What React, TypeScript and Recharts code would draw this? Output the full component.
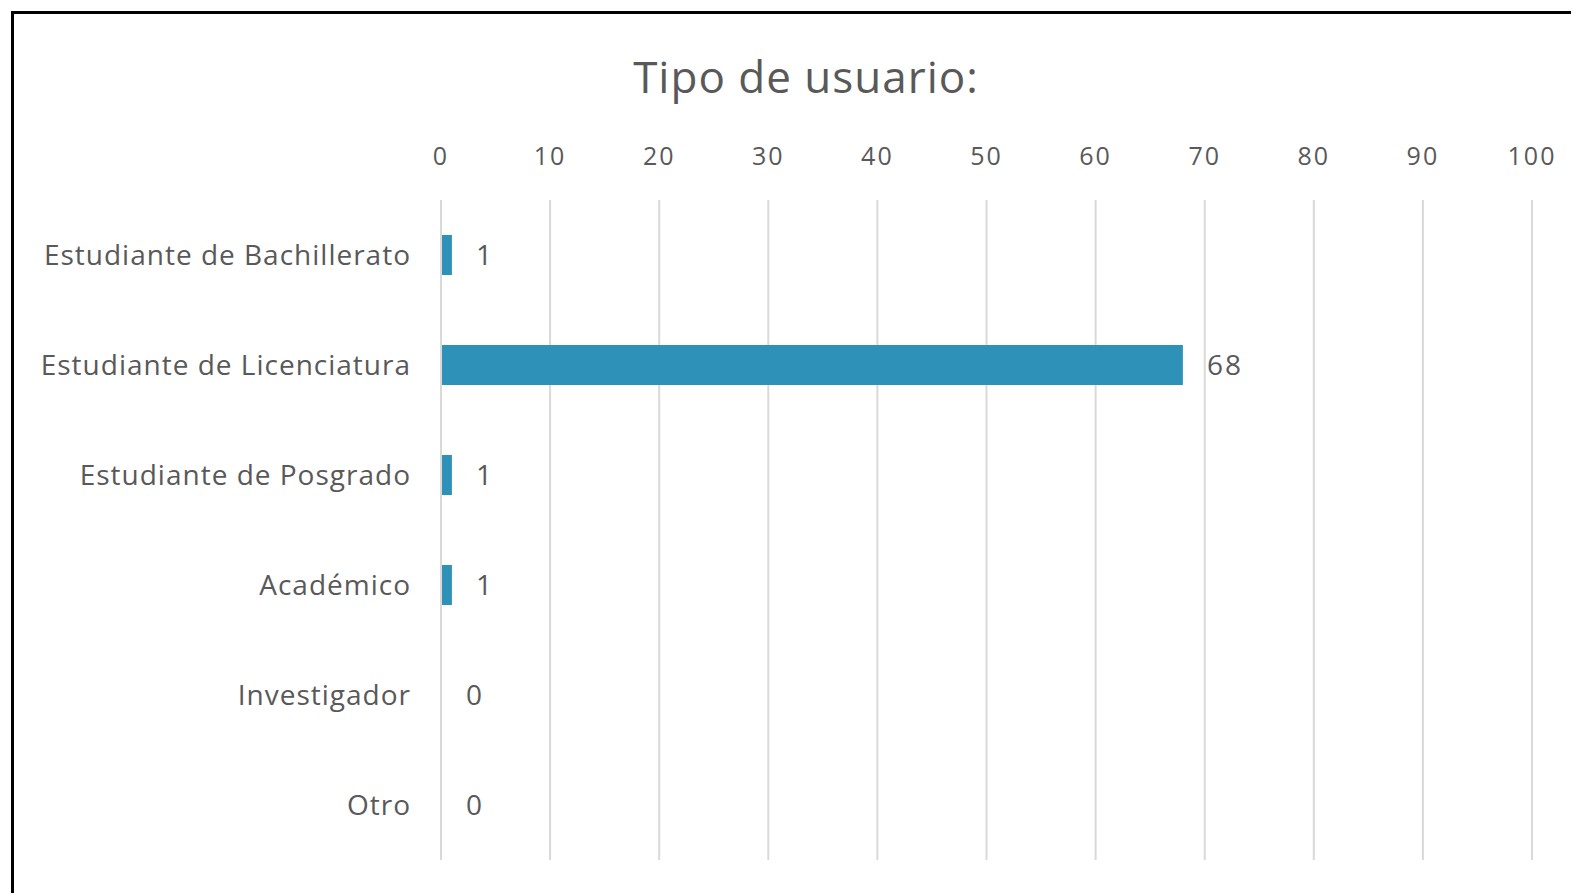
import { BarChart, Bar, XAxis, YAxis, CartesianGrid, LabelList } from 'recharts'

const categories = [
  'Estudiante de Bachillerato',
  'Estudiante de Licenciatura',
  'Estudiante de Posgrado',
  'Académico',
  'Investigador',
  'Otro',
]
const counts = [1, 68, 1, 1, 0, 0]
const xTicks = [0, 10, 20, 30, 40, 50, 60, 70, 80, 90, 100]

const data = categories.map((name, i) => ({ name, value: counts[i] }))

const FONT = "'Open Sans', sans-serif"
const TEXT = '#595959'

// zero values still need a label, so bars get a min size but draw nothing when 0
function BarShape(props: any) {
  const { x, y, width, height, fill, value } = props
  if (!value) return null
  return <rect x={x} y={y} width={width} height={height} fill={fill} />
}

export default function App() {
  return (
    <div
      style={{
        position: 'relative',
        width: 1579,
        height: 893,
        margin: '-8px 0 0 -8px',
        background: '#fff',
        overflow: 'hidden',
        fontFamily: FONT,
      }}
    >
      <div
        style={{
          position: 'absolute',
          left: 11,
          top: 11,
          right: -10,
          bottom: -10,
          borderLeft: '3px solid #000',
          borderTop: '3px solid #000',
        }}
      />
      <div
        style={{
          position: 'absolute',
          left: 0,
          width: 1612,
          top: 48,
          textAlign: 'center',
          fontSize: 44,
          letterSpacing: 1,
          color: TEXT,
          lineHeight: '56px',
        }}
      >
        Tipo de usuario:
      </div>
      <div style={{ position: 'absolute', left: 0, top: 0 }}>
        <BarChart
          layout='vertical'
          width={1579}
          height={893}
          data={data}
          margin={{ top: 140, right: 47, bottom: 33, left: 0 }}
        >
          <CartesianGrid
            horizontal={false}
            stroke='#d9d9d9'
            strokeWidth={2}
          />
          <XAxis
            type='number'
            orientation='top'
            domain={[0, 100]}
            ticks={xTicks}
            height={60}
            axisLine={false}
            tickLine={false}
            tickSize={0}
            tickMargin={35}
            tick={{
              fontSize: 25,
              fill: TEXT,
              fontFamily: FONT,
              letterSpacing: 2,
            }}
          />
          <YAxis
            type='category'
            dataKey='name'
            width={441}
            axisLine={{ stroke: '#d9d9d9', strokeWidth: 2 }}
            tickLine={false}
            tickSize={0}
            tickMargin={30}
            tick={{
              fontSize: 28,
              fill: TEXT,
              fontFamily: FONT,
              letterSpacing: 1,
            }}
          />
          <Bar
            dataKey='value'
            fill='#2e92b8'
            barSize={40}
            minPointSize={1}
            shape={BarShape}
            isAnimationActive={false}
          >
            <LabelList
              dataKey='value'
              position='right'
              offset={24}
              style={{
                fontSize: 28,
                fill: TEXT,
                fontFamily: FONT,
                letterSpacing: 2,
              }}
            />
          </Bar>
        </BarChart>
      </div>
    </div>
  )
}
